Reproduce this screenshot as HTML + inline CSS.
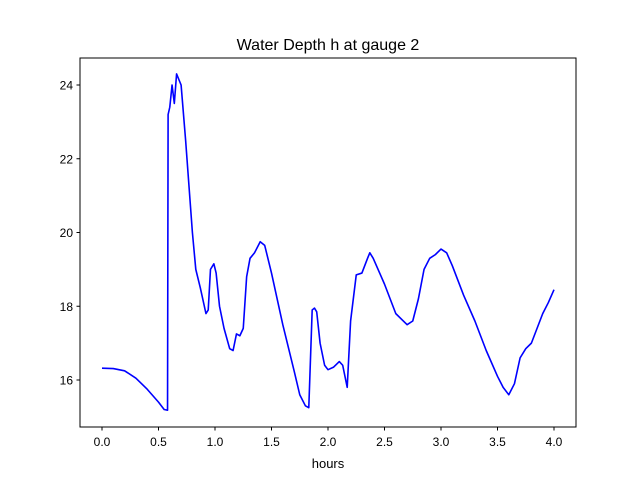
<!DOCTYPE html>
<html><head><meta charset="utf-8"><style>
body{margin:0;background:#fff;font-family:"Liberation Sans","DejaVu Sans",sans-serif}
</style></head><body>
<svg width="640" height="480" xmlns="http://www.w3.org/2000/svg">
<rect width="640" height="480" fill="#fff"/>
<text x="328" y="50" text-anchor="middle" font-size="16">Water Depth h at gauge 2</text>
<g id="plot"></g>
<rect x="80" y="58" width="496" height="369" fill="none" stroke="#000" stroke-width="1"/>
<text x="328" y="468" text-anchor="middle" font-size="13">hours</text>
</svg>
<script>
const hours=[0,0.1,0.2,0.3,0.4,0.5,0.55,0.58,0.585,0.6,0.62,0.64,0.66,0.7,0.74,0.8,0.83,0.87,0.92,0.94,0.96,0.99,1.01,1.04,1.08,1.13,1.16,1.19,1.22,1.25,1.28,1.31,1.35,1.4,1.44,1.5,1.6,1.7,1.75,1.8,1.83,1.86,1.88,1.9,1.93,1.97,2.0,2.05,2.1,2.13,2.17,2.2,2.25,2.3,2.35,2.37,2.4,2.5,2.6,2.7,2.75,2.8,2.85,2.9,2.95,3.0,3.05,3.1,3.2,3.3,3.4,3.5,3.55,3.6,3.65,3.7,3.75,3.8,3.85,3.9,3.95,4.0];
const depth=[16.32,16.31,16.25,16.05,15.75,15.4,15.2,15.18,23.2,23.4,24.0,23.5,24.3,24.0,22.5,20.0,19.0,18.5,17.8,17.9,19.0,19.15,18.9,18.0,17.4,16.85,16.8,17.25,17.2,17.4,18.8,19.3,19.45,19.75,19.65,18.9,17.5,16.25,15.6,15.3,15.25,17.9,17.95,17.85,17.0,16.4,16.28,16.35,16.5,16.4,15.8,17.6,18.85,18.9,19.3,19.45,19.3,18.6,17.8,17.5,17.6,18.2,19.0,19.3,19.4,19.55,19.45,19.1,18.3,17.6,16.8,16.1,15.8,15.6,15.9,16.6,16.85,17.0,17.4,17.8,18.1,18.45];
const xTicks=[0,0.5,1,1.5,2,2.5,3,3.5,4];
const yTicks=[16,18,20,22,24];
const NS="http://www.w3.org/2000/svg";
const X=v=>102+v*113;
const Y=v=>380-(v-16)*36.875;
const g=document.getElementById('plot');
function mk(t,a){const e=document.createElementNS(NS,t);for(const k in a)e.setAttribute(k,a[k]);g.appendChild(e);return e;}
xTicks.forEach(t=>{
 const l=mk('line',{x1:X(t),x2:X(t),y1:427,y2:430.5,stroke:'#000'});
 
 
 const s=mk('text',{x:X(t),y:446,'text-anchor':'middle','font-size':'12'});
 s.textContent=t.toFixed(1);
 
 
});
yTicks.forEach(t=>{
 const l=mk('line',{x1:76.5,x2:80,y1:Y(t),y2:Y(t),stroke:'#000'});
 
 
 const s=mk('text',{x:73,y:Y(t)+4.5,'text-anchor':'end','font-size':'12'});
 s.textContent=t;
 
 
});
const p=mk('polyline',{points:hours.map((h,i)=>X(h)+','+Y(depth[i])).join(' '),fill:'none',stroke:'#0000ff','stroke-width':1.6,'stroke-linejoin':'round'});


</script>
</body></html>
